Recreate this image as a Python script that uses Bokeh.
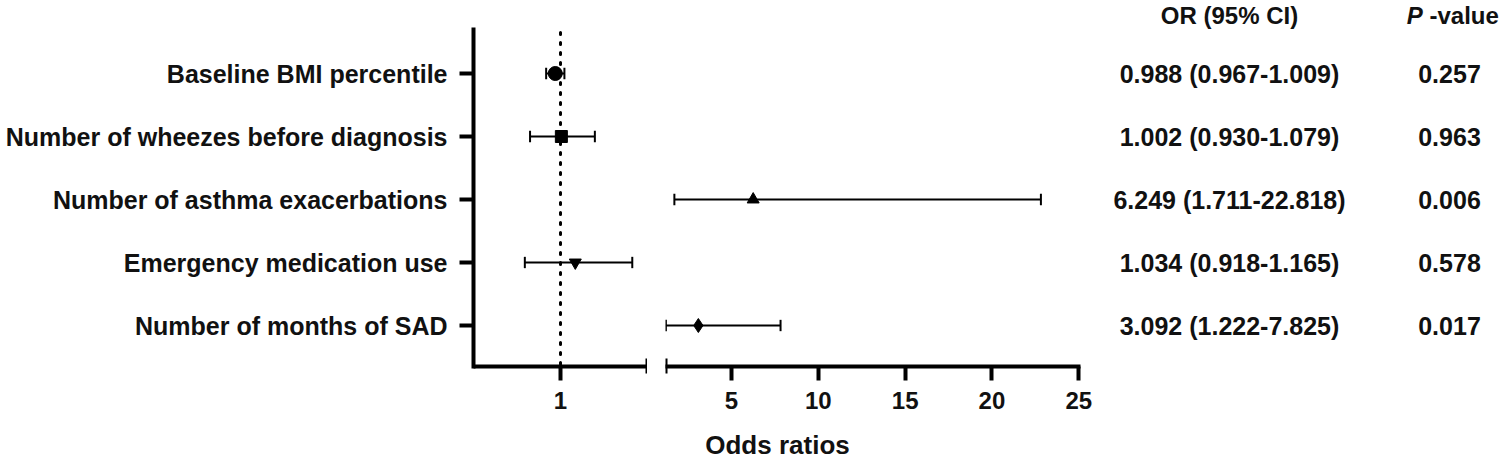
from bokeh.plotting import figure
from bokeh.layouts import row
from bokeh.models import (ColumnDataSource, Range1d, FixedTicker)
from bokeh.core.properties import value
from bokeh.embed import file_html
from bokeh.resources import INLINE

# ---------------- data ----------------
variables = ["Baseline BMI percentile", "Number of wheezes before diagnosis",
             "Number of asthma exacerbations", "Emergency medication use",
             "Number of months of SAD"]
odds = [0.988, 1.002, 6.249, 1.034, 3.092]
ci_low = [0.967, 0.930, 1.711, 0.918, 1.222]
ci_high = [1.009, 1.079, 22.818, 1.165, 7.825]
p_values = ["0.257", "0.963", "0.006", "0.578", "0.017"]
markers = ["circle", "square", "triangle", "inverted_triangle", "diamond"]
marker_sizes = [14, 12, 12, 12, 14]
left_ticks = [1]
right_ticks = [5, 10, 15, 20, 25]
break_at = 1.2
left_span = (0.8, 1.2)
right_start = 1.2
right_axis_end = 25

FONT = "Liberation Sans"
rows_y = list(range(1, len(variables) + 1))
or_text = ["%.3f (%.3f-%.3f)" % (o, l, h) for o, l, h in zip(odds, ci_low, ci_high)]

# ---------------- geometry (px) ----------------
H = 461
row_px = 63
first_row_px = 73
y_top = 1 - first_row_px / row_px
y_bot = y_top + H / row_px
axis_top = y_top + 29 / row_px
axis_y = y_top + 366 / row_px
dot_top = y_top + 32 / row_px
head_y = y_top + 15 / row_px
xlabel_y = y_top + 444 / row_px

left_w = 647
left_border = 473
right_w = 853
right_border = 18
right_frame = right_w - right_border
px_per_unit = 413.3 / (right_axis_end - right_start)
right_end = right_start + right_frame / px_per_unit


def style_xaxis(ax):
    ax.fixed_location = axis_y
    ax.axis_line_width = 4
    ax.axis_line_cap = "square"
    ax.major_tick_line_width = 4
    ax.major_tick_out = 14
    ax.major_tick_in = 0
    ax.minor_tick_line_width = 4
    ax.minor_tick_in = 8
    ax.minor_tick_out = 7
    ax.major_label_text_font = FONT
    ax.major_label_text_font_style = "bold"
    ax.major_label_text_font_size = "24px"
    ax.major_label_text_color = "#111111"
    ax.major_label_standoff = 11


def split(in_left):
    keep = [(ci_high[i] <= break_at) == in_left for i in range(len(odds))]
    d = dict(x=[], y=[], lo=[], hi=[], m=[], s=[], ylo=[], yhi=[])
    for i, k in enumerate(keep):
        if k:
            d["x"].append(odds[i]); d["y"].append(rows_y[i])
            d["lo"].append(ci_low[i]); d["hi"].append(ci_high[i])
            d["m"].append(markers[i]); d["s"].append(marker_sizes[i])
            d["ylo"].append(rows_y[i] - 0.09); d["yhi"].append(rows_y[i] + 0.09)
    return ColumnDataSource(d)


def draw(p, src):
    p.segment(x0="lo", x1="hi", y0="y", y1="y", source=src, line_color="black", line_width=1.8)
    p.segment(x0="lo", x1="lo", y0="ylo", y1="yhi", source=src, line_color="black", line_width=2)
    p.segment(x0="hi", x1="hi", y0="ylo", y1="yhi", source=src, line_color="black", line_width=2)
    p.scatter(x="x", y="y", marker="m", size="s", source=src, fill_color="black", line_color="black")


# ---------------- left panel ----------------
pl = figure(width=left_w, height=H, output_backend="svg", toolbar_location=None,
            x_range=Range1d(*left_span), y_range=Range1d(y_bot, y_top),
            min_border_left=left_border, min_border_right=0, min_border_top=0,
            min_border_bottom=0)
pl.grid.visible = False
pl.outline_line_color = None
pl.background_fill_color = "white"
pl.border_fill_color = "white"

xa = pl.xaxis[0]
xa.ticker = FixedTicker(ticks=left_ticks, minor_ticks=[break_at])
xa.bounds = left_span
style_xaxis(xa)

ya = pl.yaxis[0]
ya.ticker = FixedTicker(ticks=rows_y, minor_ticks=[])
ya.major_label_overrides = {r: v for r, v in zip(rows_y, variables)}
ya.bounds = (axis_top, axis_y)
ya.axis_line_width = 4
ya.axis_line_cap = "square"
ya.major_tick_line_width = 4
ya.major_tick_out = 14
ya.major_tick_in = 0
ya.minor_tick_line_color = None
ya.major_label_text_font = FONT
ya.major_label_text_font_style = "bold"
ya.major_label_text_font_size = "25px"
ya.major_label_text_color = "#111111"
ya.major_label_standoff = 12

pl.segment(x0=[1], x1=[1], y0=[dot_top], y1=[axis_y], line_color="black",
           line_width=3, line_dash="2 8", line_cap="round")
draw(pl, split(True))

# ---------------- right panel ----------------
pr = figure(width=right_w, height=H, output_backend="svg", toolbar_location=None,
            x_range=Range1d(right_start, right_end), y_range=Range1d(y_bot, y_top),
            y_axis_location=None,
            min_border_left=right_border, min_border_right=0, min_border_top=0,
            min_border_bottom=0)
pr.grid.visible = False
pr.outline_line_color = None
pr.background_fill_color = "white"
pr.border_fill_color = "white"

xr = pr.xaxis[0]
xr.ticker = FixedTicker(ticks=right_ticks, minor_ticks=[right_start])
xr.bounds = (right_start, right_axis_end)
style_xaxis(xr)

draw(pr, split(False))

or_x = right_start + (1229 - 665) / px_per_unit
p_x = right_start + (1449 - 665) / px_per_unit
head_p_x = right_start + (1429 - 665) / px_per_unit
xlabel_x = right_start + (777 - 665) / px_per_unit

txt = dict(text_baseline="middle", text_font=value(FONT), text_font_style="bold",
           text_color="#111111")
pr.text(x=[or_x] * len(rows_y), y=rows_y, text=or_text, text_align="center",
        text_font_size="25px", **txt)
pr.text(x=[p_x] * len(rows_y), y=rows_y, text=p_values, text_align="center",
        text_font_size="25px", **txt)
pr.text(x=[or_x], y=[head_y], text=["OR (95% CI)"], text_align="center",
        text_font_size="24px", **txt)
pr.text(x=[head_p_x], y=[head_y], text=["-value"], text_align="left",
        text_font_size="24px", **txt)
pr.text(x=[head_p_x], y=[head_y], text=["P "], text_align="right",
        text_font_size="24px", text_baseline="middle", text_font=value(FONT),
        text_font_style="bold italic", text_color="#111111")
pr.text(x=[xlabel_x], y=[xlabel_y], text=["Odds ratios"], text_align="center",
        text_font_size="26px", **txt)

layout = row(pl, pr)
open("out.html", "w").write(file_html(layout, INLINE))
